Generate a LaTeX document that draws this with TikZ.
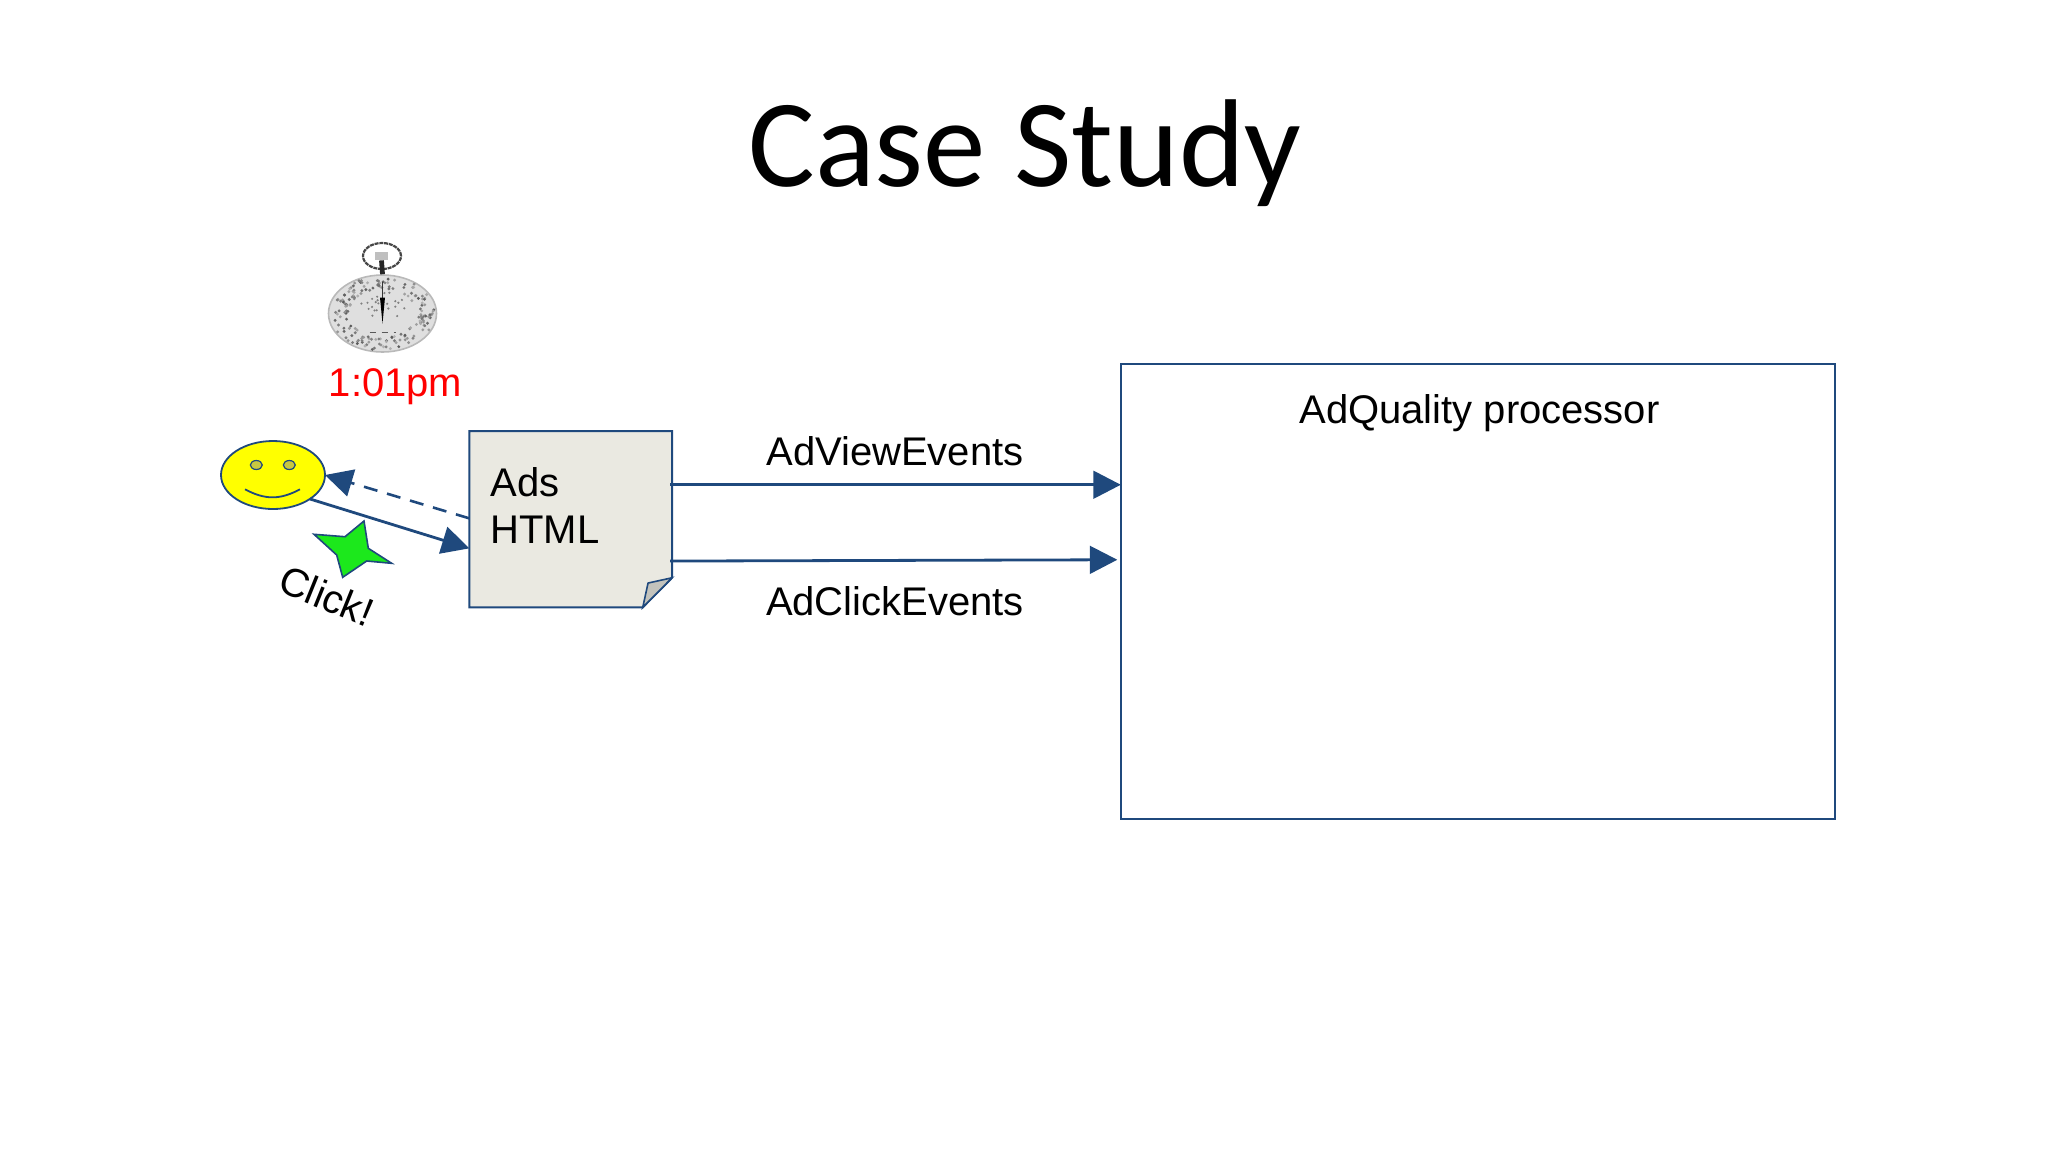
\documentclass[tikz,border=0pt]{standalone}
\usepackage{fontspec}
\setmainfont{Liberation Sans}
\newfontfamily\titlefont{Carlito}
\usetikzlibrary{positioning, shapes.geometric, calc, arrows.meta}
\definecolor{linkblue}{HTML}{1F497D}
\definecolor{docfill}{HTML}{EAE9E1}
\definecolor{foldfill}{HTML}{C3C3BC}
\definecolor{eyefill}{HTML}{C8C840}
\definecolor{smileyellow}{HTML}{FFFF00}
\definecolor{stargreen}{HTML}{1CE81C}
\tikzstyle{txt} = [inner sep=0pt, font=\fontsize{20}{23.85}\selectfont, text=black]
\tikzstyle{procbox} = [rectangle, minimum width=357pt, minimum height=227.35pt, outer sep=0pt, draw=linkblue, line width=1.1pt]
\tikzstyle{docbox} = [rectangle, minimum width=101.35pt, minimum height=88.15pt, outer sep=0pt]
\tikzstyle{face} = [ellipse, minimum width=52pt, minimum height=34pt, inner sep=0pt, outer sep=0pt, fill=smileyellow, draw=linkblue, line width=0.9pt]
\tikzstyle{eye} = [ellipse, minimum width=6pt, minimum height=4.5pt, inner sep=0pt, fill=eyefill, draw=linkblue, line width=0.6pt]
\tikzstyle{arrow} = [-{Triangle[length=13.7pt,width=13.8pt]}, linkblue, line width=1.4pt]
\begin{document}
\begin{tikzpicture}[x=0.5pt, y=-0.5pt]
  \useasboundingbox (0,0) rectangle (2048,1152);
  %title
  \node (title) [inner sep=0pt, anchor=base, font=\titlefont\fontsize{62.5}{70}\selectfont] at (1025,186) {Case Study};

  %stopwatch
  \node (watch) [ellipse, minimum width=54pt, minimum height=38.5pt, inner sep=0pt, fill=gray!25, draw=gray!55, line width=0.8pt] at (382.5,313.5) {};
  \node (ring) [ellipse, minimum width=19pt, minimum height=13pt, inner sep=0pt, draw=gray!55!black, line width=1.1pt, dash pattern=on 2pt off 0.4pt] at (382,256) {};
  \node (crown) [rectangle, minimum width=6.5pt, minimum height=4pt, inner sep=0pt, fill=gray!50] at (381.5,256) {};
  \draw [black!85, line width=2.4pt] (crown.south) -- (watch.north);
  \pgfmathsetseed{11}
  \foreach \i in {1,...,170} {
    \pgfmathsetmacro{\ang}{360*rnd}
    \pgfmathsetmacro{\rad}{0.66+0.34*rnd}
    \pgfmathsetmacro{\shade}{30+35*rnd}
    \fill [black!\shade] ($(watch)+(\ang:52*\rad*1 and 37*\rad)$) circle (0.8pt);
  }
  \foreach \i in {1,...,22} {
    \pgfmathsetmacro{\ang}{360*rnd}
    \pgfmathsetmacro{\rad}{0.1+0.4*rnd}
    \fill [black!50] ($(watch)+(0,-8)+(\ang:52*\rad*1 and 30*\rad)$) circle (0.6pt);
  }
  \draw [black!80, line width=0.6pt] ($(watch)+(0,-32)$) -- ($(watch)+(0,-16)$);
  \fill [black] ($(watch)+(-2.5,-16)$) -- ($(watch)+(2.5,-16)$) -- ($(watch)+(0,10)$) -- cycle;
  \draw [gray!70!black, line width=0.5pt, dashed] ($(watch)+(-13,19)$) -- ($(watch)+(13,19)$);
  \node (time) [txt, anchor=base, text=red] at (395.5,396.5) {1:01pm};

  %user and click
  \node (smile) [face] at (273,475) {};
  \node (eyel) [eye] at (256.3,465) {};
  \node (eyer) [eye] at (289.3,465) {};
  \draw [linkblue, line width=0.9pt] (245,489.3) .. controls (265,500) and (280,500) .. (300,489.3);
  \draw [draw=linkblue, fill=stargreen, line width=0.8pt] (314,534.3) -- (345,536.7) -- (364,521) -- (368.3,548.3) -- (391.7,563.3) -- (366.7,561) -- (342.7,577.3) -- (336.7,555) -- cycle;
  \node (click) [txt, rotate=-22] at (326.7,596) {Click!};

  %document
  \node (ads) [docbox] at (570.7,519.2) {};
  \draw [draw=linkblue, fill=docfill, line width=1pt] (ads.north west) -- (ads.north east) -- ($(ads.north east)+(0,146.7)$) -- ($(ads.south east)+(-29.3,0)$) -- (ads.south west) -- cycle;
  \draw [draw=linkblue, fill=foldfill, line width=0.8pt] ($(ads.north east)+(0,146.7)$) -- ($(ads.north east)+(-24,152)$) -- ($(ads.south east)+(-29.3,0)$) -- cycle;
  \node (adstxt) [txt, anchor=west, align=left] at (490,505.5) {Ads\\HTML};

  %processor
  \node (proc) [procbox] at (1478.3,591.7) {};
  \node (qual) [txt, anchor=base] at (1479.5,423) {AdQuality processor};
  \node (viewtxt) [txt, anchor=base] at (895,465) {AdViewEvents};
  \node (clicktxt) [txt, anchor=base] at (895,615) {AdClickEvents};

  %connectors
  \draw [arrow, line width=1.3pt, dash pattern=on 7pt off 5pt] ($(ads.north west)+(0,87.3)$) -- (smile.east);
  \draw [arrow] (smile.-33) -- ($(ads.north west)+(0,117.3)$);
  \draw [arrow] ($(ads.north east)+(-2,53.7)$) -- ($(proc.north west)+(-0.5,120.4)$);
  \draw [arrow] ($(ads.north east)+(-2,130)$) -- ($(proc.north west)+(-4,195.4)$);
\end{tikzpicture}
\end{document}
